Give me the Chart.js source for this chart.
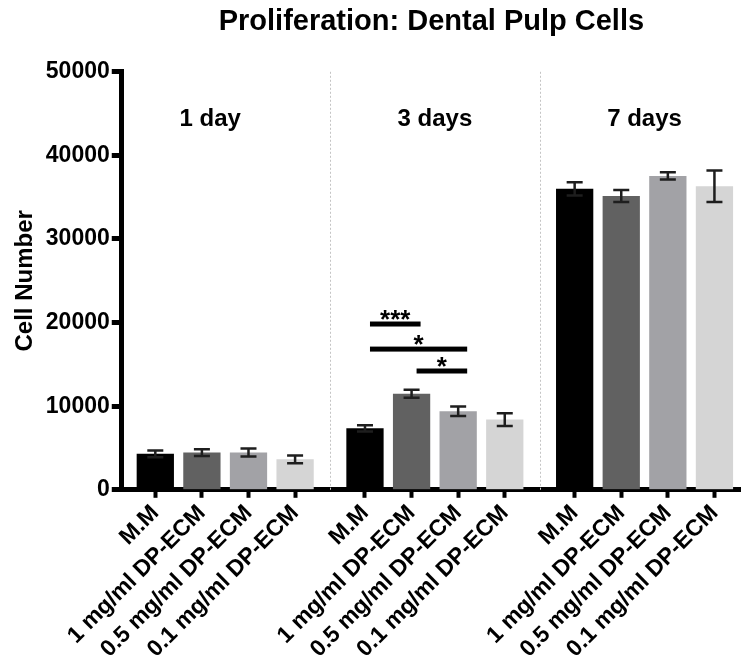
<!DOCTYPE html>
<html>
<head>
<meta charset="utf-8">
<script src="https://cdn.jsdelivr.net/npm/chart.js@4"></script>
<style>
  body { margin: 0; background: #fff; }
  #wrap { width: 741px; height: 665px; }
</style>
</head>
<body>
<div id="wrap"><canvas id="chart"></canvas></div>
<script>
// treatments (repeated in each day group) and the day groups
const treatments = ['M.M', '1 mg/ml DP-ECM', '0.5 mg/ml DP-ECM', '0.1 mg/ml DP-ECM'];
const days = ['1 day', '3 days', '7 days'];

// mean cell number per treatment
const day1Mean = [4300, 4450, 4450, 3650];
const day3Mean = [7350, 11500, 9400, 8400];
const day7Mean = [36000, 35150, 37550, 36300];

// error (SD) per treatment
const day1Sd = [400, 400, 480, 460];
const day3Sd = [380, 480, 560, 760];
const day7Sd = [800, 720, 440, 1880];

// significance brackets, 3 days group (bar index from/to, level, stars)
const sigFrom = [4, 4, 5];
const sigTo = [5, 6, 6];
const sigLevel = [19830, 16830, 14210];
const sigText = ['***', '*', '*'];

const barColors = ['#000000', '#616161', '#a2a2a6', '#d5d5d5'];
const yTicks = [0, 10000, 20000, 30000, 40000, 50000];

Chart.defaults.font.family = "'Liberation Sans', Arial, sans-serif";

const means = [day1Mean, day3Mean, day7Mean];
const sds = [day1Sd, day3Sd, day7Sd];
const groupGap = 0.5;

let points = [];
let labels = [];
let colors = [];
let errs = [];
days.forEach((d, g) => {
    treatments.forEach((t, i) => {
        points.push({ x: g * (treatments.length + groupGap) + i, y: means[g][i] });
        labels.push(t);
        colors.push(barColors[i]);
        errs.push(sds[g][i]);
    });
});

const extras = {
    id: 'extras',
    beforeDatasetsDraw(chart) {
        const { ctx, chartArea, scales: { x } } = chart;
        ctx.save();
        ctx.strokeStyle = '#c4c4c4';
        ctx.lineWidth = 1;
        ctx.setLineDash([2, 2]);
        for (let g = 1; g < days.length; g++) {
            const n = treatments.length;
            const px = Math.round(x.getPixelForValue((points[g * n - 1].x + points[g * n].x) / 2)) + 0.5;
            ctx.beginPath();
            ctx.moveTo(px, chartArea.top);
            ctx.lineTo(px, chartArea.bottom);
            ctx.stroke();
        }
        ctx.restore();
    },
    afterDatasetsDraw(chart) {
        const { ctx, scales: { x, y } } = chart;
        const meta = chart.getDatasetMeta(0);
        ctx.save();

        // error bars
        ctx.strokeStyle = '#1e1e1e';
        ctx.lineWidth = 2.5;
        meta.data.forEach((bar, i) => {
            const top = y.getPixelForValue(points[i].y + errs[i]);
            const bot = y.getPixelForValue(points[i].y - errs[i]);
            ctx.beginPath();
            ctx.moveTo(bar.x, top); ctx.lineTo(bar.x, bot);
            ctx.moveTo(bar.x - 8, top); ctx.lineTo(bar.x + 8, top);
            ctx.moveTo(bar.x - 8, bot); ctx.lineTo(bar.x + 8, bot);
            ctx.stroke();
        });

        // day labels (first one sits a bit left in the original)
        const nudge = [-15, 0, 0];
        ctx.fillStyle = '#000';
        ctx.font = "bold 24px 'Liberation Sans', Arial, sans-serif";
        ctx.textAlign = 'center';
        ctx.textBaseline = 'alphabetic';
        const n = treatments.length;
        days.forEach((d, g) => {
            const mid = (points[g * n].x + points[g * n + n - 1].x) / 2;
            ctx.fillText(d, x.getPixelForValue(mid) + nudge[g], y.getPixelForValue(43500));
        });

        // significance bars
        ctx.font = "bold 26px 'Liberation Sans', Arial, sans-serif";
        sigFrom.forEach((f, k) => {
            const x1 = meta.data[f].x + 5;
            const x2 = meta.data[sigTo[k]].x + 9;
            const py = y.getPixelForValue(sigLevel[k]);
            ctx.fillRect(x1, py - 2.5, x2 - x1, 5);
            ctx.fillText(sigText[k], (x1 + x2) / 2, py + 4);
        });

        ctx.restore();
    }
};

new Chart(document.getElementById('chart'), {
    type: 'bar',
    data: {
        datasets: [{
            data: points,
            backgroundColor: colors,
            borderWidth: 0,
            barPercentage: 0.8,
            categoryPercentage: 1
        }]
    },
    options: {
        responsive: true,
        maintainAspectRatio: false,
        animation: false,
        layout: { padding: { left: 7, right: 0, top: 0, bottom: 0 } },
        plugins: {
            legend: { display: false },
            tooltip: { enabled: false },
            title: {
                display: true,
                text: 'Proliferation: Dental Pulp Cells',
                color: '#000',
                font: { size: 29, weight: 'bold' },
                padding: { top: 5, bottom: 32 },
                fullSize: false
            }
        },
        scales: {
            x: {
                type: 'linear',
                min: -0.72,
                max: 12.57,
                offset: false,
                afterBuildTicks: axis => { axis.ticks = points.map(p => ({ value: p.x })); },
                ticks: {
                    autoSkip: false,
                    minRotation: 45,
                    maxRotation: 45,
                    color: '#000',
                    padding: 2,
                    font: { size: 23, weight: 'bold' },
                    callback: (v, i) => labels[i]
                },
                grid: { offset: false, drawOnChartArea: false, tickLength: 8, tickWidth: 4, tickColor: '#000' },
                border: { display: true, color: '#000', width: 5 }
            },
            y: {
                min: 0,
                max: 50000,
                afterBuildTicks: axis => { axis.ticks = yTicks.map(v => ({ value: v })); },
                ticks: {
                    color: '#000',
                    padding: 2,
                    font: { size: 23, weight: 'bold' },
                    callback: v => String(v)
                },
                grid: { drawOnChartArea: false, tickLength: 10, tickWidth: 5, tickColor: '#000' },
                border: { display: true, color: '#000', width: 5 },
                title: {
                    display: true,
                    text: 'Cell Number',
                    color: '#000',
                    font: { size: 24, weight: 'bold' },
                    padding: { top: 4, bottom: 4 }
                }
            }
        }
    },
    plugins: [extras]
});
</script>
</body>
</html>
